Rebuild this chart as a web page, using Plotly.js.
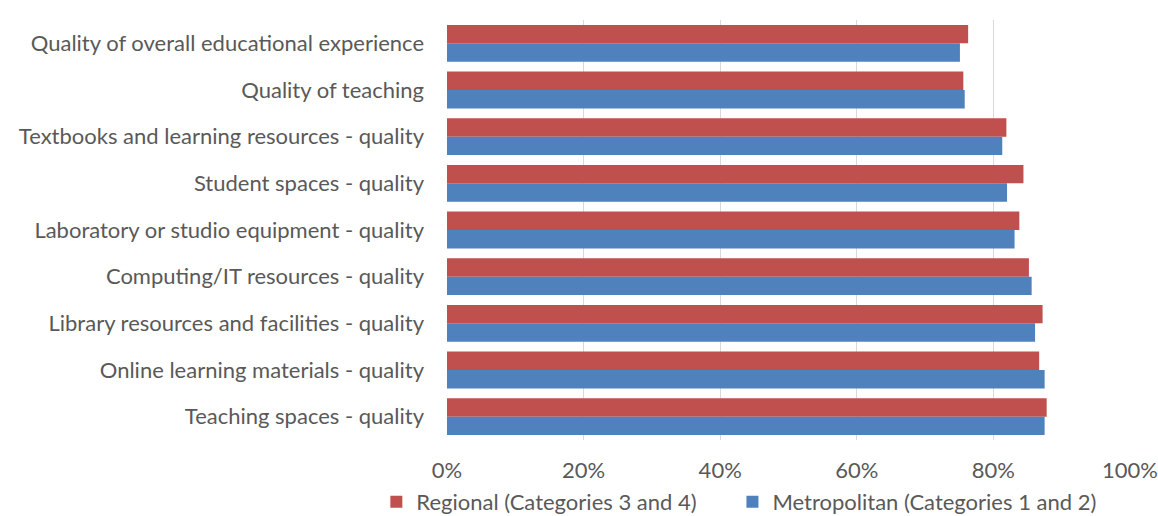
<!DOCTYPE html>
<html>
<head>
<meta charset="utf-8">
<script src="https://cdn.plot.ly/plotly-3.0.1.min.js"></script>
<style>html,body{margin:0;padding:0;background:#fff;}#chart{width:1158px;height:516px;}</style>
</head>
<body>
<div id="chart"></div>
<script>
const categories = [
  "Quality of overall educational experience",
  "Quality of teaching",
  "Textbooks and learning resources - quality",
  "Student spaces - quality",
  "Laboratory or studio equipment - quality",
  "Computing/IT resources - quality",
  "Library resources and facilities - quality",
  "Online learning materials - quality",
  "Teaching spaces - quality"
];
const regional = [0.763, 0.756, 0.819, 0.844, 0.838, 0.852, 0.872, 0.867, 0.878];
const metropolitan = [0.751, 0.758, 0.813, 0.820, 0.831, 0.856, 0.861, 0.875, 0.875];
const xTicks = [0, 0.2, 0.4, 0.6, 0.8, 1.0];
const xTickText = ["0%", "20%", "40%", "60%", "80%", "100%"];

const font = {family: "Lato, Open Sans, sans-serif", size: 22, color: "#595959"};

const traces = [
  {type: "bar", orientation: "h", name: "Regional (Categories 3 and 4)", y: categories, x: regional,
   marker: {color: "#C0504D"}, hoverinfo: "x+y", legend: "legend"},
  {type: "bar", orientation: "h", name: "Metropolitan (Categories 1 and 2)", y: categories, x: metropolitan,
   marker: {color: "#4F81BD"}, hoverinfo: "x+y", legend: "legend2"}
];

const legendBase = {orientation: "h", xref: "container", xanchor: "left",
  y: 0.068, yref: "container", yanchor: "top", font: font, itemwidth: 30,
  bgcolor: "rgba(0,0,0,0)"};

const layout = {
  width: 1158, height: 516,
  margin: {l: 447, r: 28, t: 20, b: 76, autoexpand: false},
  paper_bgcolor: "#fff", plot_bgcolor: "#fff",
  font: font,
  barmode: "group",
  bargap: 0.21,
  bargroupgap: 0,
  showlegend: true,
  legend: Object.assign({}, legendBase, {x: 0.325}),
  legend2: Object.assign({}, legendBase, {x: 0.6325}),
  xaxis: {range: [0, 1.0], tickvals: xTicks, ticktext: xTickText, showgrid: true,
          gridcolor: "#D9D9D9", gridwidth: 1, zeroline: false, showline: false,
          ticks: "", tickfont: font, ticklabelstandoff: 15, fixedrange: true},
  yaxis: {autorange: "reversed", type: "category", showgrid: false, zeroline: false,
          showline: false, ticks: "", tickfont: font, ticklabelstandoff: 22, fixedrange: true}
};

Plotly.newPlot("chart", traces, layout, {displayModeBar: false, staticPlot: true});
</script>
</body>
</html>
